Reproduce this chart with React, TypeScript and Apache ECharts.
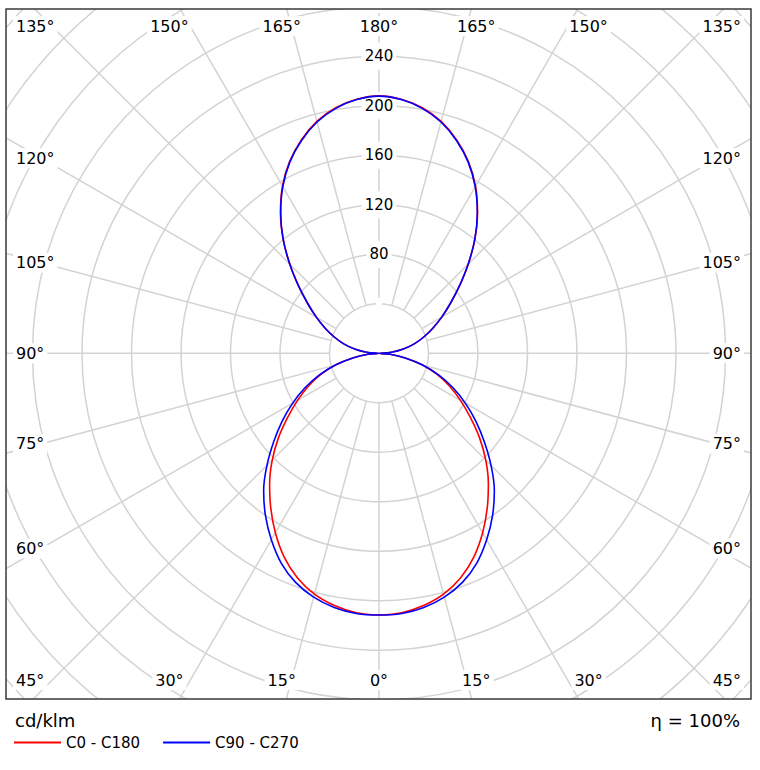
import React, { useEffect, useRef } from "react";
import * as echarts from "echarts";

// gamma angles (deg), 0 = straight down, 180 = straight up
const gammaAngles = [0, 5, 10, 15, 20, 25, 30, 35, 40, 45, 50, 55, 60, 65, 70, 75, 80, 85, 90, 95, 100, 105, 110, 115, 120, 125, 130, 135, 140, 145, 150, 155, 160, 165, 170, 175, 180];

// luminous intensity (cd/klm) per gamma angle
const c0c180 = [211.5, 210.5, 207, 201.5, 193, 181.5, 167.5, 152.5, 137.5, 122, 106, 90, 76, 63, 50, 36, 21.5, 9, 0, 10, 20, 29.5, 38.5, 48, 58.5, 70.5, 85, 102, 120.5, 138.8, 156, 171, 183.5, 194, 201.5, 206, 208];
const c90c270 = [211.5, 211, 208.5, 204, 197, 187, 174, 160, 145, 128, 111, 95.5, 80.5, 66, 51.5, 36.5, 21.5, 9, 0, 10, 20, 29.5, 38.5, 48, 58.5, 70.5, 85, 102, 120.5, 138.5, 155.5, 170.5, 183, 193.5, 201, 205.8, 207.8];

const seriesNames = ["C0 - C180", "C90 - C270"];
const radiusLabelTicks = [80, 120, 160, 200, 240];
const spokeAngles = [0, 15, 30, 45, 60, 75, 90, 105, 120, 135, 150, 165, 180, 195, 210, 225, 240, 255, 270, 285, 300, 315, 330, 345];
const topLabelGammas = [150, 165, 180];
const bottomLabelGammas = [0, 15, 30];
const sideLabelGammas = [60, 75, 90, 105, 120];
const cornerTopGamma = 135;
const cornerBottomGamma = 45;
const unitLabel = "cd/klm";
const efficiencyLabel = "η = 100%";

const RADIUS_MAX = 440;
const RING_INNER = 40;
const PX_PER_UNIT = 1.2375;
const CX = 379;
const CY = 353.3;
const FRAME = { x: 6, y: 9, w: 745, h: 690 };
const GRID = "#d3d3d3";
const FONT = "DejaVu Sans";

// polar angle axis: 0 at top, clockwise; right half = 180 - gamma, left half = 180 + gamma
function buildLoop(values: number[]) {
  const right = gammaAngles.map((g, i) => [values[i], 180 - g]);
  const left = gammaAngles
    .map((g, i) => [values[i], 180 + g])
    .reverse()
    .slice(1);
  return [...right, ...left];
}

function deg(v: number) {
  return (v * Math.PI) / 180;
}

export default function App() {
  const ref = useRef<HTMLDivElement>(null);

  useEffect(() => {
    if (!ref.current) return;
    const chart = echarts.init(ref.current, undefined, { renderer: "svg" });

    const textStyleBase = {
      fill: "#000",
      fontSize: 16,
      fontFamily: FONT,
      backgroundColor: "#fff",
      padding: [2, 3],
    };

    const angleTexts: any[] = [];
    const mk = (text: string, x: number, y: number, align: string) =>
      angleTexts.push({
        type: "text",
        z: 101,
        silent: true,
        x,
        y,
        style: { ...textStyleBase, text, align, verticalAlign: "middle" },
      });

    topLabelGammas.forEach((g) => {
      const off = 363 * Math.tan(deg(180 - g));
      mk(g + "°", CX - off, 26, "center");
      if (off > 0.5) mk(g + "°", CX + off, 26, "center");
    });
    bottomLabelGammas.forEach((g) => {
      const off = 363 * Math.tan(deg(g));
      mk(g + "°", CX - off, 680, "center");
      if (off > 0.5) mk(g + "°", CX + off, 680, "center");
    });
    sideLabelGammas.forEach((g) => {
      const off = 338 * Math.tan(deg(Math.abs(90 - g)));
      const y = g < 90 ? CY + off : CY - off;
      mk(g + "°", 13, y, "left");
      mk(g + "°", 744, y, "right");
    });
    mk(cornerTopGamma + "°", 13, 26, "left");
    mk(cornerTopGamma + "°", 744, 26, "right");
    mk(cornerBottomGamma + "°", 13, 680, "left");
    mk(cornerBottomGamma + "°", 744, 680, "right");

    const option: any = {
      animation: false,
      backgroundColor: "#fff",
      polar: {
        center: [CX, CY],
        radius: RADIUS_MAX * PX_PER_UNIT,
      },
      angleAxis: {
        type: "value",
        min: 0,
        max: 360,
        startAngle: 90,
        clockwise: true,
        axisLine: { show: false },
        axisTick: { show: false },
        axisLabel: { show: false },
        splitLine: { show: false },
      },
      radiusAxis: {
        type: "value",
        min: 0,
        max: RADIUS_MAX,
        interval: 40,
        z: 2,
        axisLine: { show: false },
        axisTick: { show: false },
        splitLine: { show: true, lineStyle: { color: GRID, width: 1.5 } },
        axisLabel: {
          show: true,
          margin: 0,
          align: "center",
          verticalAlign: "middle",
          hideOverlap: false,
          color: "#000",
          fontSize: 15,
          fontFamily: FONT,
          backgroundColor: "#fff",
          padding: [11, 3, 1, 3],
          formatter: (v: number) => (radiusLabelTicks.includes(v) ? String(v) : ""),
        },
      },
      legend: {
        data: seriesNames,
        left: 9,
        top: 730,
        z: 200,
        icon: "rect",
        itemWidth: 47,
        itemHeight: 2,
        itemGap: 23,
        textStyle: { color: "#000", fontSize: 15, fontFamily: FONT },
      },
      series: [
        {
          type: "custom",
          coordinateSystem: "polar",
          z: 1,
          silent: true,
          data: spokeAngles.map((a) => [RADIUS_MAX, a]),
          renderItem: (_p: any, api: any) => {
            const a = api.value(1);
            const p1 = api.coord([RING_INNER, a]);
            const p2 = api.coord([api.value(0), a]);
            return {
              type: "line",
              shape: { x1: p1[0], y1: p1[1], x2: p2[0], y2: p2[1] },
              style: { stroke: GRID, lineWidth: 1.5 },
            };
          },
        },
        {
          name: seriesNames[0],
          type: "line",
          coordinateSystem: "polar",
          z: 3,
          color: "#ff0000",
          showSymbol: false,
          smooth: 0.4,
          lineStyle: { color: "#ff0000", width: 1.6 },
          data: buildLoop(c0c180),
        },
        {
          name: seriesNames[1],
          type: "line",
          coordinateSystem: "polar",
          z: 4,
          color: "#0000ff",
          showSymbol: false,
          smooth: 0.4,
          lineStyle: { color: "#0000ff", width: 1.6 },
          data: buildLoop(c90c270),
        },
      ],
      graphic: {
        elements: [
          { type: "rect", z: 100, silent: true, shape: { x: 0, y: 0, width: 760, height: FRAME.y }, style: { fill: "#fff" } },
          { type: "rect", z: 100, silent: true, shape: { x: 0, y: 0, width: FRAME.x, height: 770 }, style: { fill: "#fff" } },
          { type: "rect", z: 100, silent: true, shape: { x: FRAME.x + FRAME.w, y: 0, width: 20, height: 770 }, style: { fill: "#fff" } },
          { type: "rect", z: 100, silent: true, shape: { x: 0, y: FRAME.y + FRAME.h, width: 760, height: 80 }, style: { fill: "#fff" } },
          {
            type: "rect",
            z: 102,
            silent: true,
            shape: { x: FRAME.x, y: FRAME.y, width: FRAME.w, height: FRAME.h },
            style: { fill: "none", stroke: "#3a3a3a", lineWidth: 1.5 },
          },
          ...angleTexts,
          {
            type: "text",
            z: 103,
            x: 15,
            y: 720,
            style: { text: unitLabel, fill: "#000", fontSize: 18, fontFamily: FONT, align: "left", verticalAlign: "middle" },
          },
          {
            type: "text",
            z: 103,
            x: 740,
            y: 720,
            style: { text: efficiencyLabel, fill: "#000", fontSize: 18, fontFamily: FONT, align: "right", verticalAlign: "middle" },
          },
        ],
      },
    };

    chart.setOption(option);
    return () => chart.dispose();
  }, []);

  return (
    <div
      ref={ref}
      style={{ position: "fixed", left: 0, top: 0, width: 760, height: 770, background: "#fff" }}
    />
  );
}
